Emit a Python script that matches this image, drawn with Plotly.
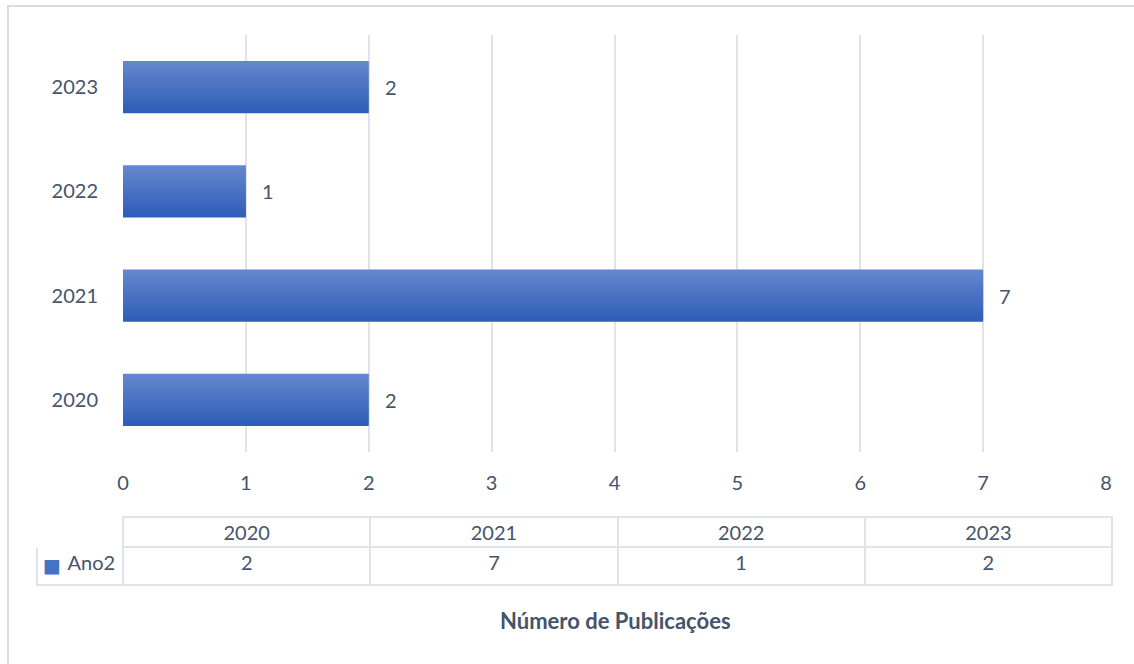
import plotly.graph_objects as go

categories = ["2020", "2021", "2022", "2023"]
values = [2, 7, 1, 2]
series_name = "Ano2"
x_ticks = [0, 1, 2, 3, 4, 5, 6, 7, 8]
axis_title = "Número de Publicações"

W, H = 1134, 664
FONT = "Lato"
TXT = "#44546a"
GRID = "#e0e4ea"
BLUE = "#4472c4"

def px_x(p):
    return p / W

def px_y(p):
    return 1 - p / H

fig = go.Figure()

# gradient bars built from several thin slices of the same data bars
N = 24
dark = (46, 94, 184)
light = (100, 134, 206)
bw = 0.5
for i in range(N):
    t = i / (N - 1)
    c = tuple(round(dark[k] + (light[k] - dark[k]) * t) for k in range(3))
    w = bw / N * (1.0 if i == N - 1 else 1.4)
    fig.add_trace(go.Bar(
        y=categories, x=values, orientation="h",
        width=w, offset=-bw / 2 + i * bw / N,
        marker=dict(color="rgb(%d,%d,%d)" % c, line=dict(width=0)),
        showlegend=False, hoverinfo="skip",
    ))

# data table
fig.add_trace(go.Table(
    domain=dict(x=[px_x(37), px_x(1112)], y=[px_y(600), px_y(517)]),
    columnwidth=[86, 247, 247, 247, 247],
    header=dict(
        values=[""] + categories,
        height=30,
        align="center",
        fill=dict(color="white"),
        line=dict(color=["white"] + [GRID] * 4, width=2),
        font=dict(family=FONT, size=20, color=TXT),
    ),
    cells=dict(
        values=[[series_name]] + [[v] for v in values],
        height=38,
        align=["right"] + ["center"] * 4,
        fill=dict(color="white"),
        line=dict(color=GRID, width=2),
        font=dict(family=FONT, size=20, color=TXT),
    ),
))

# data labels, placed at each bar's end through the axes (y = category index)
label_annotations = [
    dict(
        x=v, y=i, xref="x", yref="y", text=str(v), showarrow=False,
        xanchor="left", yanchor="middle", xshift=14, yshift=0,
        font=dict(family=FONT, size=20, color=TXT),
    )
    for i, v in enumerate(values)
]

fig.update_layout(
    width=W, height=H,
    margin=dict(l=0, r=0, t=0, b=0),
    paper_bgcolor="white", plot_bgcolor="white",
    barmode="overlay",
    showlegend=False,
    font=dict(family=FONT, size=20, color=TXT),
    xaxis=dict(
        domain=[px_x(123), px_x(1106)],
        range=[0, 8], tickvals=x_ticks,
        showgrid=True, gridcolor=GRID, gridwidth=2,
        zeroline=False, showline=False, ticks="",
        ticklabelstandoff=17, automargin=False,
        tickfont=dict(family=FONT, size=20, color=TXT),
    ),
    yaxis=dict(
        domain=[px_y(452), px_y(35)],
        type="category", categoryorder="array", categoryarray=categories,
        range=[-0.5, 3.5],
        showgrid=False, zeroline=False, showline=False, ticks="",
        ticklabelstandoff=24, automargin=False,
        tickfont=dict(family=FONT, size=20, color=TXT),
    ),
    shapes=[dict(
        type="rect", xref="paper", yref="paper",
        x0=px_x(8), x1=1.05, y0=-0.05, y1=px_y(6),
        line=dict(color="#d9dde3", width=2), fillcolor="rgba(0,0,0,0)",
        layer="below",
    )],
    annotations=label_annotations + [
        dict(
            text="<b>" + axis_title + "</b>", xref="paper", yref="paper",
            x=px_x(615), y=px_y(620), showarrow=False,
            xanchor="center", yanchor="middle",
            font=dict(family=FONT, size=22, color=TXT),
        ),
        dict(
            text="■", xref="paper", yref="paper",
            x=px_x(52), y=px_y(565), showarrow=False,
            xanchor="center", yanchor="middle",
            font=dict(family="DejaVu Sans", size=19, color=BLUE),
        ),
    ],
)

fig.write_html("out.html")
